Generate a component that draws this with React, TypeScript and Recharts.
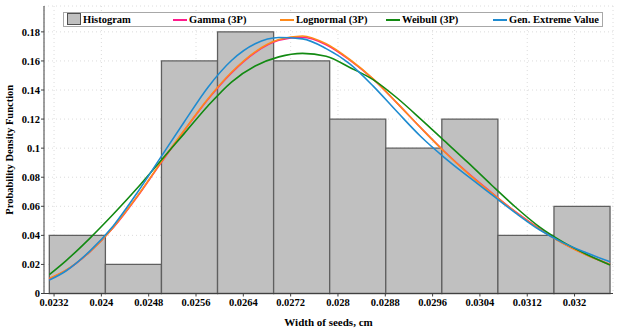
import React from "react";
import { ComposedChart, Line, XAxis, YAxis, CartesianGrid, ReferenceArea, Label } from "recharts";

// seed width (cm) sample points for the fitted curves
const widths = [
  0.02312, 0.0234, 0.0238, 0.0242, 0.0246, 0.025, 0.0254, 0.0258, 0.0262, 0.0266, 0.027, 0.0274, 0.0278,
  0.0282, 0.0286, 0.029, 0.0294, 0.0298, 0.0302, 0.0306, 0.031, 0.0314, 0.0318, 0.0322, 0.0326,
];

const gamma = [
  0.0100, 0.0158, 0.0285, 0.0452, 0.0662, 0.0895, 0.1120, 0.1335, 0.1518, 0.1658, 0.1742, 0.1763, 0.1712,
  0.1606, 0.1473, 0.1310, 0.1140, 0.0977, 0.0828, 0.0693, 0.0563, 0.0448, 0.0347, 0.0266, 0.0199,
];
const lognormal = [
  0.0104, 0.0160, 0.0285, 0.0455, 0.0665, 0.0898, 0.1123, 0.1338, 0.1522, 0.1663, 0.1747, 0.1772, 0.1718,
  0.1610, 0.1475, 0.1310, 0.1140, 0.0975, 0.0825, 0.0690, 0.0560, 0.0445, 0.0345, 0.0265, 0.0200,
];
const weibull = [
  0.0130, 0.0225, 0.0378, 0.0545, 0.0722, 0.0912, 0.1100, 0.1290, 0.1455, 0.1565, 0.1628, 0.1652, 0.1632,
  0.1555, 0.1470, 0.1345, 0.1200, 0.1050, 0.0900, 0.0745, 0.0595, 0.0460, 0.0355, 0.0270, 0.0196,
];
const gev = [
  0.0092, 0.0155, 0.0290, 0.0465, 0.0690, 0.0935, 0.1180, 0.1418, 0.1603, 0.1718, 0.1761, 0.1752, 0.1685,
  0.1580, 0.1425, 0.1250, 0.1080, 0.0935, 0.0805, 0.0680, 0.0555, 0.0440, 0.0350, 0.0280, 0.0218,
];

// histogram bins
const binEdges = [0.02312, 0.024068, 0.025016, 0.025964, 0.026912, 0.02786, 0.028808, 0.029756, 0.030704, 0.031652, 0.0326];
const binHeights = [0.04, 0.02, 0.16, 0.18, 0.16, 0.12, 0.1, 0.12, 0.04, 0.06];

const xTicks = [0.0232, 0.024, 0.0248, 0.0256, 0.0264, 0.0272, 0.028, 0.0288, 0.0296, 0.0304, 0.0312, 0.032];
const xTickLabels = ["0.0232", "0.024", "0.0248", "0.0256", "0.0264", "0.0272", "0.028", "0.0288", "0.0296", "0.0304", "0.0312", "0.032"];
const yTicks = [0, 0.02, 0.04, 0.06, 0.08, 0.1, 0.12, 0.14, 0.16, 0.18];
const yTickLabels = ["0", "0.02", "0.04", "0.06", "0.08", "0.1", "0.12", "0.14", "0.16", "0.18"];

const series = [
  { key: "gamma", name: "Gamma (3P)", color: "#ff1a8c" },
  { key: "lognormal", name: "Lognormal (3P)", color: "#ff8a1a" },
  { key: "weibull", name: "Weibull (3P)", color: "#128a12" },
  { key: "gev", name: "Gen. Extreme Value", color: "#1f8bd0" },
];

const data = widths.map((w, i) => ({
  w,
  gamma: gamma[i],
  lognormal: lognormal[i],
  weibull: weibull[i],
  gev: gev[i],
}));

const font = "'Liberation Serif', 'Times New Roman', serif";
const tickStyle = { fill: "#000", fontSize: 10.5, fontWeight: "bold" as const, fontFamily: font };

function LegendBox() {
  const lineLefts = [109, 216, 322, 429];
  return (
    <div
      style={{
        position: "absolute",
        left: 63,
        top: 12,
        width: 538,
        height: 13,
        border: "1px solid #a8a8a8",
        background: "#fff",
        fontFamily: font,
        fontWeight: "bold",
        fontSize: 10.5,
        color: "#000",
      }}
    >
      <div style={{ position: "absolute", left: 3, top: 0, width: 12, height: 10, background: "#c0c0c0", border: "1px solid #505050" }} />
      <span style={{ position: "absolute", left: 19, top: 0, lineHeight: "13px" }}>Histogram</span>
      {series.map((s, i) => (
        <React.Fragment key={s.key}>
          <div style={{ position: "absolute", left: lineLefts[i], top: 6, width: 14, height: 2, background: s.color }} />
          <span style={{ position: "absolute", left: lineLefts[i] + 16, top: 0, lineHeight: "13px" }}>{s.name}</span>
        </React.Fragment>
      ))}
    </div>
  );
}

export default function App() {
  return (
    <div style={{ position: "absolute", left: 0, top: 0, width: 623, height: 333, background: "#fff" }}>
      <ComposedChart width={623} height={333} data={data} margin={{ top: 6, right: 10, left: 0, bottom: 20 }}>
        <CartesianGrid stroke="#dcdcdc" strokeDasharray="1 3" />
        <XAxis
          dataKey="w"
          type="number"
          domain={[0.02303, 0.03265]}
          ticks={xTicks}
          allowDataOverflow
          height={19.5}
          tickFormatter={(v, i) => xTickLabels[i]}
          tick={tickStyle}
          tickSize={3}
          tickMargin={2}
          stroke="#404040"
        >
          <Label
            value="Width of seeds,  cm"
            position="bottom"
            offset={5}
            style={{ fontFamily: font, fontWeight: "bold", fontSize: 11, fill: "#000" }}
          />
        </XAxis>
        <YAxis
          type="number"
          domain={[0, 0.1978]}
          ticks={yTicks}
          allowDataOverflow
          width={44}
          tickFormatter={(v, i) => yTickLabels[i]}
          tick={tickStyle}
          tickSize={3}
          tickMargin={1}
          stroke="#404040"
        >
          <Label
            value="Probability Density Function"
            angle={-90}
            position="insideLeft"
            offset={9}
            style={{ textAnchor: "middle", fontFamily: font, fontWeight: "bold", fontSize: 10.5, fill: "#000" }}
          />
        </YAxis>
        {binHeights.map((h, i) => (
          <ReferenceArea
            key={i}
            x1={binEdges[i]}
            x2={binEdges[i + 1]}
            y1={0}
            y2={h}
            fill="#c0c0c0"
            fillOpacity={1}
            stroke="#5f5f5f"
            strokeWidth={1.3}
          />
        ))}
        {series.map((s) => (
          <Line
            key={s.key}
            type="monotone"
            dataKey={s.key}
            name={s.name}
            stroke={s.color}
            strokeWidth={1.6}
            dot={false}
            isAnimationActive={false}
          />
        ))}
        <ReferenceArea fill="none" stroke="#7a7a7a" strokeWidth={1.3} />
      </ComposedChart>
      <LegendBox />
    </div>
  );
}
